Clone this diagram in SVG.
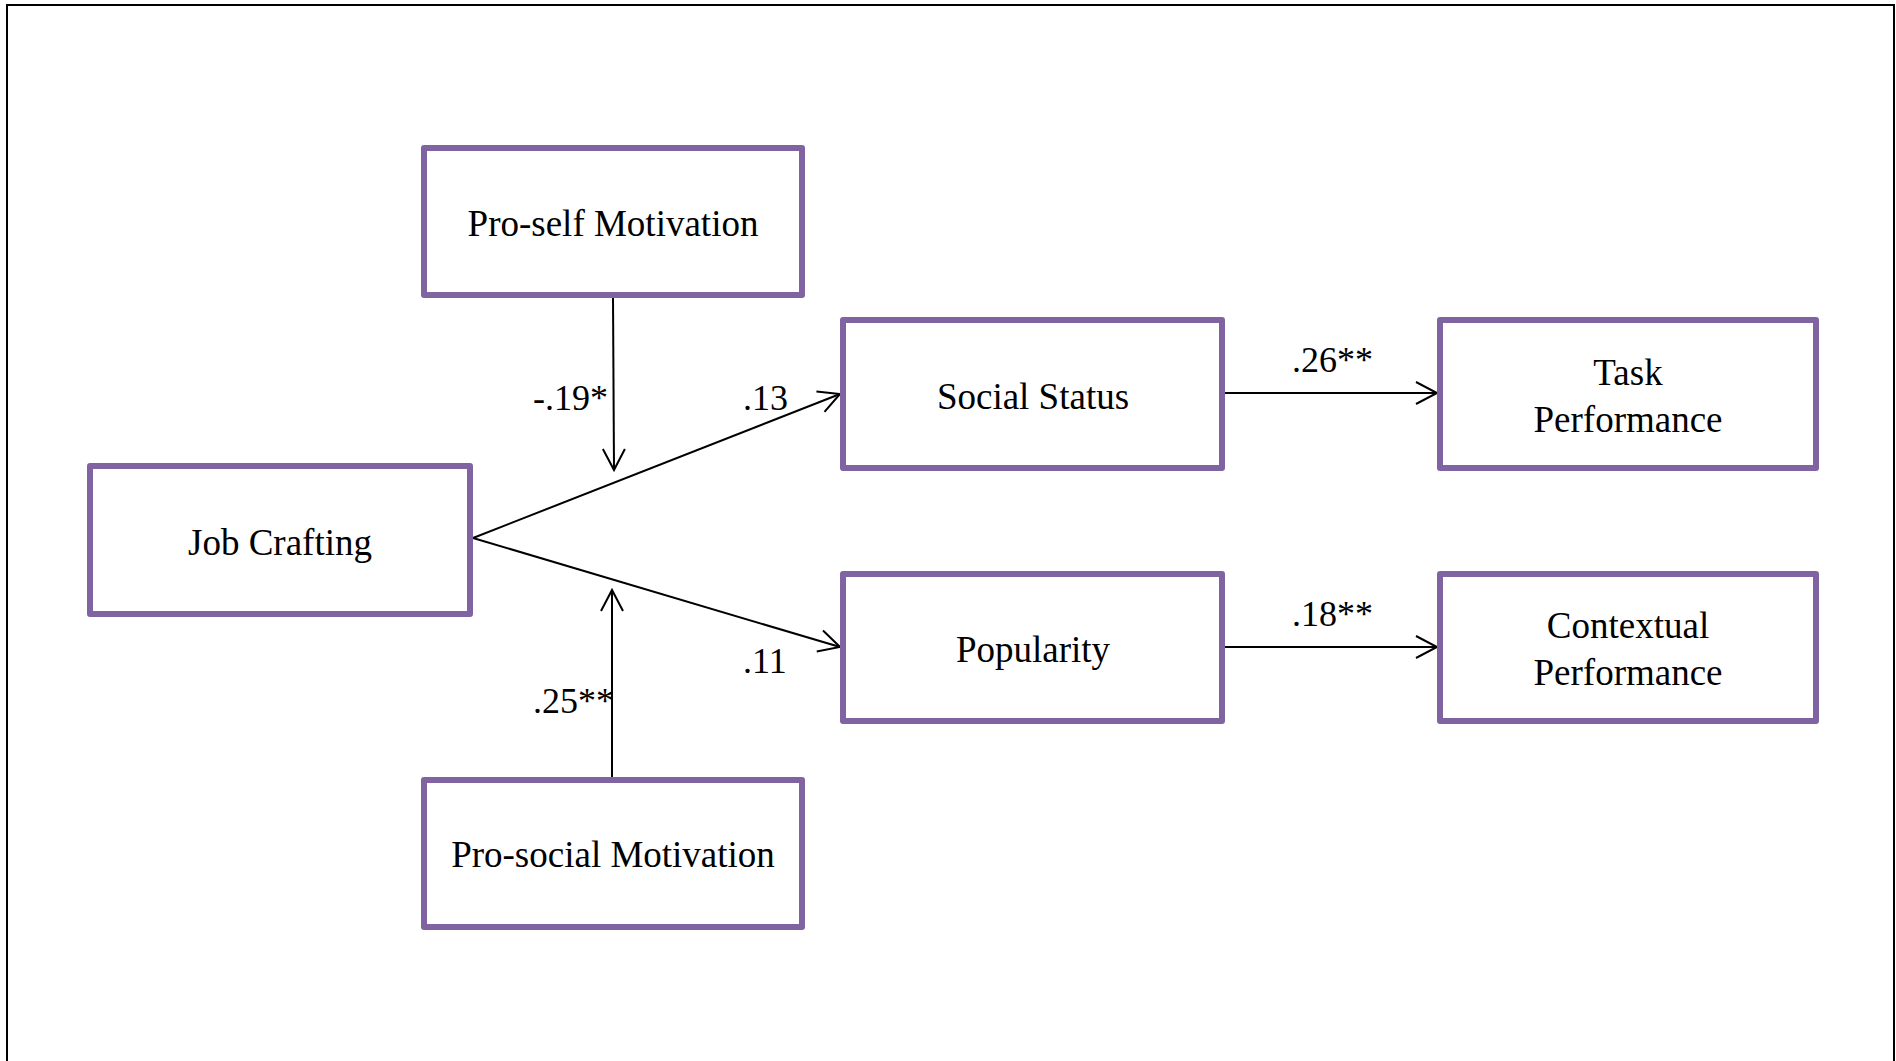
<svg xmlns="http://www.w3.org/2000/svg" width="1896" height="1061" viewBox="0 0 1896 1061">
<style>
.box{fill:#fff;stroke:#8064A2;stroke-width:6;stroke-linejoin:round}
.t{font-family:"Liberation Serif","Times New Roman",serif;font-size:37px;fill:#000;text-anchor:middle}
.lbl{font-family:"Liberation Serif","Times New Roman",serif;font-size:36px;fill:#000}
.c{fill:none;stroke:#000;stroke-width:2}
</style>
<defs>
<marker id="arr" markerUnits="userSpaceOnUse" markerWidth="26" markerHeight="28" viewBox="-23 -14 26 28" refX="0" refY="0" orient="auto">
<path d="M-21,-11 L0,0 L-21,11" fill="none" stroke="#000" stroke-width="2"/>
</marker>
</defs>
<rect width="1896" height="1061" fill="#fff"/>
<path d="M7,1061 V5 H1894 V1061" fill="none" stroke="#000" stroke-width="2"/>
<g id="connectors">
<path class="c" d="M613,298 L614,470" marker-end="url(#arr)"/>
<path class="c" d="M612,777 L612,590" marker-end="url(#arr)"/>
<path class="c" d="M473,538 L840,394" marker-end="url(#arr)"/>
<path class="c" d="M473,538 L840,647" marker-end="url(#arr)"/>
<path class="c" d="M1225,393 L1437,393" marker-end="url(#arr)"/>
<path class="c" d="M1225,647 L1437,647" marker-end="url(#arr)"/>
<text class="lbl" x="533" y="410">-.19*</text>
<text class="lbl" x="743" y="410">.13</text>
<text class="lbl" x="533" y="713">.25**</text>
<text class="lbl" x="743" y="673">.11</text>
<text class="lbl" x="1292" y="372">.26**</text>
<text class="lbl" x="1292" y="626">.18**</text>
</g>
<g id="proself">
<rect class="box" x="424" y="148" width="378" height="147"/>
<text class="t" x="613" y="236">Pro-self Motivation</text>
</g>
<g id="jobcrafting">
<rect class="box" x="90" y="466" width="380" height="148"/>
<text class="t" x="280" y="555">Job Crafting</text>
</g>
<g id="prosocial">
<rect class="box" x="424" y="780" width="378" height="147"/>
<text class="t" x="613" y="867">Pro-social Motivation</text>
</g>
<g id="socialstatus">
<rect class="box" x="843" y="320" width="379" height="148"/>
<text class="t" x="1033" y="409">Social Status</text>
</g>
<g id="popularity">
<rect class="box" x="843" y="574" width="379" height="147"/>
<text class="t" x="1033" y="662">Popularity</text>
</g>
<g id="taskperformance">
<rect class="box" x="1440" y="320" width="376" height="148"/>
<text class="t" x="1628" y="385">Task</text>
<text class="t" x="1628" y="432">Performance</text>
</g>
<g id="contextualperformance">
<rect class="box" x="1440" y="574" width="376" height="147"/>
<text class="t" x="1628" y="638">Contextual</text>
<text class="t" x="1628" y="685">Performance</text>
</g>
</svg>
